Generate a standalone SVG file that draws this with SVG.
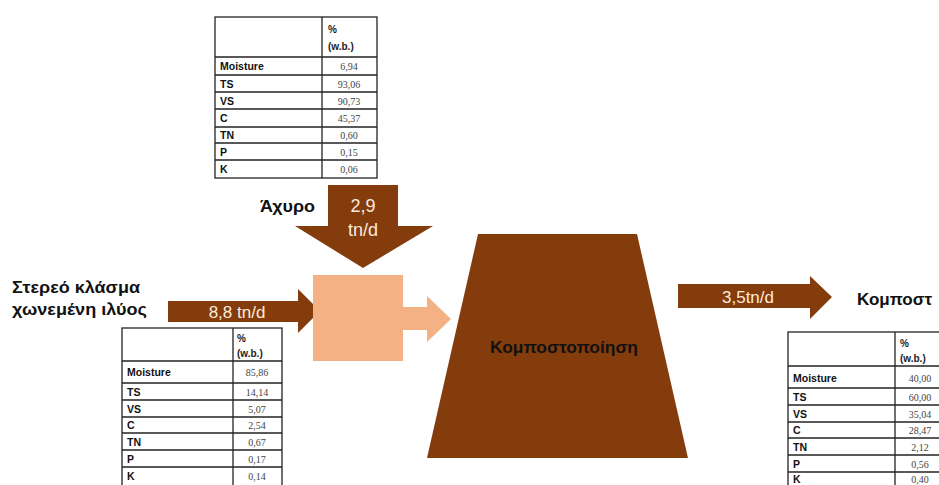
<svg xmlns="http://www.w3.org/2000/svg" width="939" height="485" viewBox="0 0 939 485">
<style>
.dark{fill:#843C0C}
.light{fill:#F4B183}
.lbl{font-family:"Liberation Sans","Noto Sans",sans-serif;font-weight:bold;fill:#111}
.atxt{font-family:"Liberation Sans","Noto Sans",sans-serif;fill:#FBEBDD;text-anchor:middle}
.tb{fill:#fff;stroke:#222;stroke-width:1.3}
.tl{stroke:#222;stroke-width:1.3}
.th{font-family:"Liberation Sans","Noto Sans",sans-serif;font-weight:bold;font-size:10.5px;fill:#111}
.tv{font-family:"Liberation Serif","DejaVu Serif",serif;font-size:10px;fill:#444;text-anchor:middle}
.hd{font-family:"Liberation Sans","Noto Sans",sans-serif;font-weight:bold;font-size:10px;fill:#222}
</style>
<rect width="939" height="485" fill="#fff"/>

<g id="connectors">
  <path id="arrow-straw" class="dark" d="M328,185 H398 V226 H433 L363,268 L295,226 H328 Z"/>
  <path id="arrow-sludge" class="dark" d="M168,301 H298 V289 L320,311 L298,333 V322 H168 Z"/>
  <path id="arrow-mix" class="light" d="M400,307 H427 V296 L451,319 L427,342 V330 H400 Z"/>
  <path id="arrow-compost" class="dark" d="M678,284 H810 V276 L832,297 L810,319 V308 H678 Z"/>
  <text class="atxt" x="363" y="212" font-size="18">2,9</text>
  <text class="atxt" x="363" y="236" font-size="18">tn/d</text>
  <text class="atxt" x="237" y="318" font-size="17">8,8 tn/d</text>
  <text class="atxt" x="748" y="303" font-size="17">3,5tn/d</text>
</g>

<g id="mixer">
  <rect class="light" x="313" y="275" width="90" height="86"/>
</g>

<g id="composting">
  <path class="dark" d="M478,234 H637 L688,458 H427 Z"/>
  <text class="lbl" x="564" y="353" font-size="17" text-anchor="middle" textLength="148" lengthAdjust="spacingAndGlyphs">Κομποστοποίηση</text>
</g>

<g id="label-straw">
  <text class="lbl" x="260" y="212" font-size="17" textLength="55" lengthAdjust="spacingAndGlyphs">Άχυρο</text>
</g>
<g id="label-sludge">
  <text class="lbl" x="12" y="293" font-size="17" textLength="128" lengthAdjust="spacingAndGlyphs">Στερεό κλάσμα</text>
  <text class="lbl" x="12" y="315" font-size="17" textLength="135" lengthAdjust="spacingAndGlyphs">χωνεμένη ιλύος</text>
</g>
<g id="label-compost">
  <text class="lbl" x="857" y="305" font-size="17" textLength="75" lengthAdjust="spacingAndGlyphs">Κομποστ</text>
</g>

<g id="table-straw">
  <rect class="tb" x="215" y="17" width="162" height="161"/>
  <line class="tl" x1="322" y1="17" x2="322" y2="178"/>
  <line class="tl" x1="215" y1="57" x2="377" y2="57"/>
  <line class="tl" x1="215" y1="75" x2="377" y2="75"/>
  <line class="tl" x1="215" y1="92" x2="377" y2="92"/>
  <line class="tl" x1="215" y1="109" x2="377" y2="109"/>
  <line class="tl" x1="215" y1="127" x2="377" y2="127"/>
  <line class="tl" x1="215" y1="143" x2="377" y2="143"/>
  <line class="tl" x1="215" y1="160" x2="377" y2="160"/>
  <text class="hd" x="328" y="33">%</text>
  <text class="hd" x="328" y="50">(w.b.)</text>
  <text class="th" x="220" y="70">Moisture</text>
  <text class="th" x="220" y="88">TS</text>
  <text class="th" x="220" y="105">VS</text>
  <text class="th" x="220" y="122">C</text>
  <text class="th" x="220" y="139">TN</text>
  <text class="th" x="220" y="156">P</text>
  <text class="th" x="220" y="173">K</text>
  <text class="tv" x="349" y="70">6,94</text>
  <text class="tv" x="349" y="88">93,06</text>
  <text class="tv" x="349" y="105">90,73</text>
  <text class="tv" x="349" y="122">45,37</text>
  <text class="tv" x="349" y="139">0,60</text>
  <text class="tv" x="349" y="156">0,15</text>
  <text class="tv" x="349" y="173">0,06</text>
</g>

<g id="table-sludge">
  <rect class="tb" x="122" y="328" width="160" height="160"/>
  <line class="tl" x1="233" y1="328" x2="233" y2="488"/>
  <line class="tl" x1="122" y1="361" x2="282" y2="361"/>
  <line class="tl" x1="122" y1="383" x2="282" y2="383"/>
  <line class="tl" x1="122" y1="400" x2="282" y2="400"/>
  <line class="tl" x1="122" y1="417" x2="282" y2="417"/>
  <line class="tl" x1="122" y1="433" x2="282" y2="433"/>
  <line class="tl" x1="122" y1="450" x2="282" y2="450"/>
  <line class="tl" x1="122" y1="467" x2="282" y2="467"/>
  <text class="hd" x="237" y="342">%</text>
  <text class="hd" x="237" y="357">(w.b.)</text>
  <text class="th" x="127" y="376">Moisture</text>
  <text class="th" x="127" y="396">TS</text>
  <text class="th" x="127" y="413">VS</text>
  <text class="th" x="127" y="429">C</text>
  <text class="th" x="127" y="446">TN</text>
  <text class="th" x="127" y="463">P</text>
  <text class="th" x="127" y="480">K</text>
  <text class="tv" x="257" y="376">85,86</text>
  <text class="tv" x="257" y="396">14,14</text>
  <text class="tv" x="257" y="413">5,07</text>
  <text class="tv" x="257" y="429">2,54</text>
  <text class="tv" x="257" y="446">0,67</text>
  <text class="tv" x="257" y="463">0,17</text>
  <text class="tv" x="257" y="480">0,14</text>
</g>

<g id="table-compost">
  <rect class="tb" x="788" y="332" width="157" height="160"/>
  <line class="tl" x1="895" y1="332" x2="895" y2="492"/>
  <line class="tl" x1="788" y1="366" x2="945" y2="366"/>
  <line class="tl" x1="788" y1="388" x2="945" y2="388"/>
  <line class="tl" x1="788" y1="405" x2="945" y2="405"/>
  <line class="tl" x1="788" y1="422" x2="945" y2="422"/>
  <line class="tl" x1="788" y1="438" x2="945" y2="438"/>
  <line class="tl" x1="788" y1="455" x2="945" y2="455"/>
  <line class="tl" x1="788" y1="472" x2="945" y2="472"/>
  <text class="hd" x="900" y="347">%</text>
  <text class="hd" x="900" y="362">(w.b.)</text>
  <text class="th" x="793" y="382">Moisture</text>
  <text class="th" x="793" y="401">TS</text>
  <text class="th" x="793" y="418">VS</text>
  <text class="th" x="793" y="434">C</text>
  <text class="th" x="793" y="451">TN</text>
  <text class="th" x="793" y="468">P</text>
  <text class="th" x="793" y="483">K</text>
  <text class="tv" x="920" y="382">40,00</text>
  <text class="tv" x="920" y="401">60,00</text>
  <text class="tv" x="920" y="418">35,04</text>
  <text class="tv" x="920" y="434">28,47</text>
  <text class="tv" x="920" y="451">2,12</text>
  <text class="tv" x="920" y="468">0,56</text>
  <text class="tv" x="920" y="483">0,40</text>
</g>
</svg>
